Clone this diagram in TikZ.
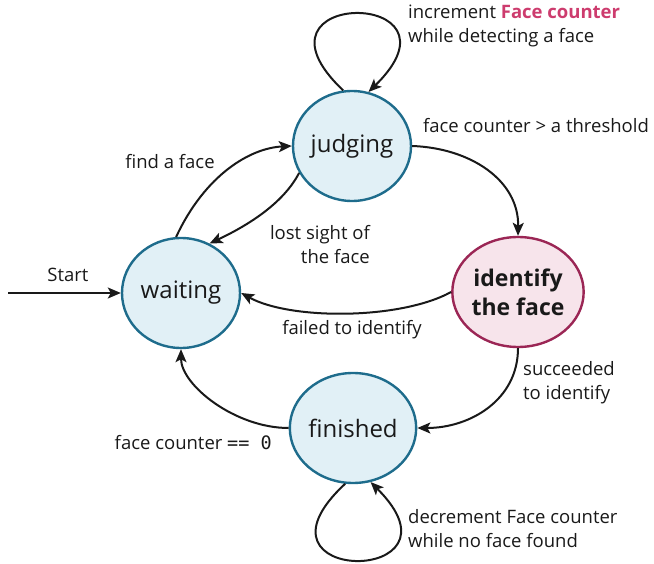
\documentclass[tikz,border=0pt]{standalone}
\usepackage{fontspec}
\setmainfont{Open Sans}
\setmonofont{DejaVu Sans Mono}
\usetikzlibrary{arrows.meta,shapes.geometric}
\definecolor{bfill}{RGB}{225,240,246}
\definecolor{bline}{RGB}{30,108,140}
\definecolor{pfill}{RGB}{247,228,235}
\definecolor{pline}{RGB}{155,38,85}
\definecolor{ptext}{RGB}{205,60,110}
\definecolor{ink}{RGB}{25,25,25}
\tikzset{
  state/.style={ellipse, draw=bline, fill=bfill, line width=2.4pt, minimum width=118pt, minimum height=110pt, inner sep=0pt, text=ink, font=\fontsize{24}{28}\selectfont},
  hot/.style={state, draw=pline, fill=pfill, minimum width=125pt, font=\bfseries\fontsize{23}{29}\selectfont, align=center},
  edge/.style={line width=2pt, draw=ink, -{Stealth[length=13pt,width=11pt,inset=3pt]}},
  lbl/.style={font=\fontsize{18.5}{24}\selectfont, text=ink, inner sep=0pt}
}
\begin{document}
\begin{tikzpicture}[x=1pt,y=-1pt]
\useasboundingbox (0,0) rectangle (654,564);
\node[state] (judging) at (352,146) {judging};
\node[state] (waiting) at (181,293) {waiting};
\node[hot] (identify) at (518,292) {identify\\the face};
\node[state] (finished) at (353,428) {finished};
\coordinate (start) at (8,293);

\draw[edge] (start) -- (waiting.west);
\node[lbl] (lstart) at (68,275) {Start};

\draw[edge] (waiting.95) .. controls (205,175) and (250,148) .. (judging.west);
\node[lbl] (lfind) at (170,162) {find a face};

\draw[edge] (judging.207) .. controls (285,200) and (255,222) .. (waiting.60);
\node[lbl, align=right, anchor=east] (llost) at (370,245) {lost sight of\\the face};

\draw[edge] (judging.east) .. controls (470,148) and (519,180) .. (identify.north);
\node[lbl] (lthr) at (536,126) {face counter > a threshold};

\draw[edge] (identify.west) .. controls (400,320) and (290,320) .. (waiting.east);
\node[lbl] (lfail) at (352,330) {failed to identify};

\draw[edge] (identify.south) .. controls (518,400) and (470,428) .. (finished.east);
\node[lbl, align=left, anchor=west] (lsucc) at (523,383) {succeeded\\to identify};

\draw[edge] (finished.west) .. controls (235,428) and (181,385) .. (waiting.south);
\node[lbl, anchor=east] (lzero) at (272,443) {face counter \texttt{==~0}};

\draw[edge] (judging.99) .. controls (235,-12) and (475,-12) .. (judging.73);
\node[lbl, align=left, anchor=west] (linc) at (408,26) {increment \textbf{\textcolor{ptext}{Face counter}}\\while detecting a face};

\draw[edge] (finished.262) .. controls (235,586) and (475,586) .. (finished.288);
\node[lbl, align=left, anchor=west] (ldec) at (408,529) {decrement Face counter\\while no face found};
\end{tikzpicture}
\end{document}
